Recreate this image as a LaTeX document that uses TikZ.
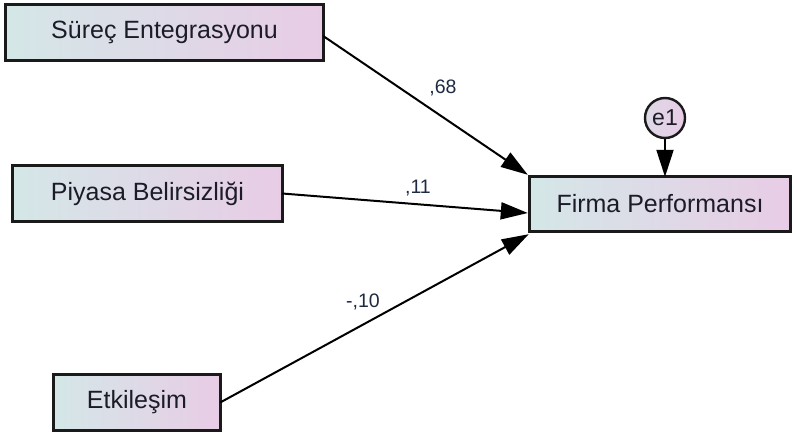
\documentclass[tikz,border=0pt]{standalone}
\usepackage{fontspec}
\setmainfont{Liberation Sans}
\usetikzlibrary{arrows.meta}
\definecolor{gleft}{HTML}{D4E7E7}
\definecolor{gright}{HTML}{E8CCE6}
\definecolor{txt}{HTML}{1C1C28}
\definecolor{lbl}{HTML}{1E2A40}
\definecolor{bord}{HTML}{1A1A1A}
\tikzset{
  varbox/.style={left color=gleft, right color=gright,
    inner sep=0pt, text=txt, font=\fontsize{25}{30}\selectfont},
  frame/.style={draw=bord, line width=2.8pt},
  errc/.style={circle, draw=bord, line width=2.4pt, left color=gleft!50!gright, right color=gright,
    inner sep=0pt, minimum size=40pt, text=txt, font=\fontsize{23}{27}\selectfont},
  arr/.style={line width=2pt, black, -{Triangle[length=27pt,width=17pt]}},
  coef/.style={text=lbl, font=\fontsize{19.5}{23}\selectfont, inner sep=0pt}
}
\begin{document}
\begin{tikzpicture}[x=1pt,y=-1pt]
\useasboundingbox (0,0) rectangle (795,435);
\node[varbox, minimum width=317pt, minimum height=55pt] (b1) at (164.5,32.5) {Süreç Entegrasyonu};
\node[varbox, minimum width=269pt, minimum height=55pt] (b2) at (147.5,193.5) {Piyasa Belirsizliği};
\node[varbox, minimum width=166pt, minimum height=55pt] (b3) at (137,402.5) {Etkileşim};
\node[varbox, minimum width=260pt, minimum height=54pt] (fp) at (660,204) {Firma Performansı};
\foreach \b in {b1,b2,b3,fp} \draw[frame] (\b.south west) rectangle (\b.north east);
\node[errc] (e1) at (665,118) {e1};
\draw[arr] ([yshift=-3.5pt]b1.east) -- ([xshift=-2pt,yshift=2pt]fp.north west);
\draw[arr] (b2.east) -- ([xshift=-2pt,yshift=-9pt]fp.west);
\draw[arr] (b3.east) -- ([xshift=-1pt,yshift=-3pt]fp.south west);
\draw[arr] (e1.south) -- (e1.south |- fp.north);
\node[coef] (l1) at (443,88) {,68};
\node[coef] (l2) at (418,188) {,11};
\node[coef] (l3) at (363,302) {-,10};
\end{tikzpicture}
\end{document}
